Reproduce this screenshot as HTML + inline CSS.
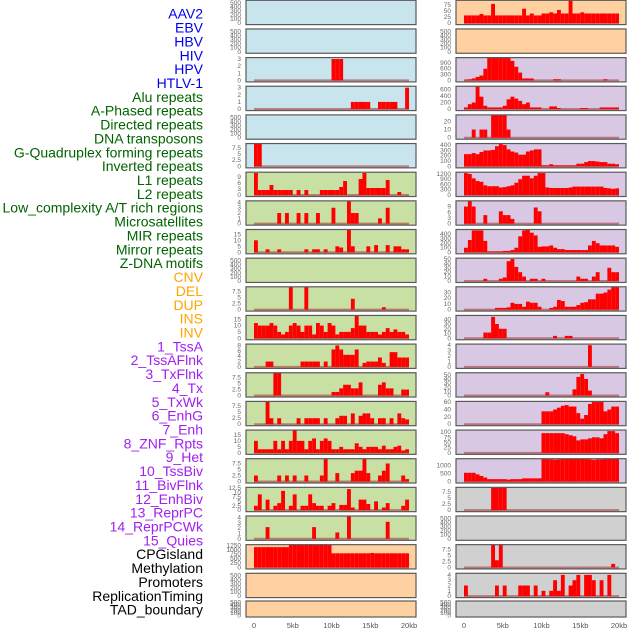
<!DOCTYPE html>
<html><head><meta charset="utf-8"><style>
html,body{margin:0;padding:0;background:#fff;width:630px;height:630px;overflow:hidden}
svg{display:block}
</style></head><body>
<svg id="chart" width="630" height="630" viewBox="0 0 630 630" xmlns="http://www.w3.org/2000/svg"></svg>
<script>
const featureNames = ["AAV2","EBV","HBV","HIV","HPV","HTLV-1","Alu repeats","A-Phased repeats","Directed repeats","DNA transposons","G-Quadruplex forming repeats","Inverted repeats","L1 repeats","L2 repeats","Low_complexity A/T rich regions","Microsatellites","MIR repeats","Mirror repeats","Z-DNA motifs","CNV","DEL","DUP","INS","INV","1_TssA","2_TssAFlnk","3_TxFlnk","4_Tx","5_TxWk","6_EnhG","7_Enh","8_ZNF_Rpts","9_Het","10_TssBiv","11_BivFlnk","12_EnhBiv","13_ReprPC","14_ReprPCWk","15_Quies","CPGisland","Methylation","Promoters","ReplicationTiming","TAD_boundary"];
const labelColors = ["#0000ee","#0000ee","#0000ee","#0000ee","#0000ee","#0000ee","#006400","#006400","#006400","#006400","#006400","#006400","#006400","#006400","#006400","#006400","#006400","#006400","#006400","#ffa500","#ffa500","#ffa500","#ffa500","#ffa500","#a020f0","#a020f0","#a020f0","#a020f0","#a020f0","#a020f0","#a020f0","#a020f0","#a020f0","#a020f0","#a020f0","#a020f0","#a020f0","#a020f0","#a020f0","#000","#000","#000","#000","#000"];
const xTickValues = [0,5,10,15,20];
const xTickLabels = ["0","5kb","10kb","15kb","20kb"];
const emptyTicks = [0,100,200,300,400,500];

// left column panels (bin width 0.5 kb, 40 bins)
const L2 = [0,0,0,0,0,0,0,0,0,0, 0,0,0,0,0,0,0,0,0,0, 3,3,3,0,0,0,0,0,0,0, 0,0,0,0,0,0,0,0,0,0];
const L3 = [0,0,0,0,0,0,0,0,0,0, 0,0,0,0,0,0,0,0,0,0, 0,0,0,0,0,1,1,1,1,1, 0,0,1,1,1,1,1,0,0,3];
const L5 = [10,10,0,0,0,0,0,0,0,0, 0,0,0,0,0,0,0,0,0,0, 0,0,0,0,0,0,0,0,0,0, 0,0,0,0,0,0,0,0,0,0];
const L6 = [11,2.5,2.5,2.5,5,2.5,2.5,2.5,2.5,2.5, 0,2.5,0,2.5,0,0,0,2.5,2.5,2.5, 2.5,2.5,4,7,0,0,0,8,11,3.5, 3.5,3.5,3.5,3.5,7.5,0,0,1.5,0,0];
const L7 = [0,0,0,0,0,0,2,0,2,0, 0,2,0,2,0,0,2,0,0,0, 3,0,0,0,4.2,2,2,0,0,0, 0,0,1,0,3,0,0,0,0,0];
const L8 = [10,0,0,2.5,0,0,2.5,0,0,0, 0,0,0,2.5,0,2.5,2.5,0,2.5,0, 0,5,4,0,20,5,0,0,0,5, 0,6,0,0,6,0,5,5,2.5,2.5];
const L10 = [0,0,0,0,0,0,0,0,0,10, 0,0,0,10,0,0,0,0,0,0, 0,0,0,0,0,4.5,0,0,0,0, 0,0,0,1,0,0,0,0,0,0];
const L11 = [12,10,10,10,12,10,5,3,5,10, 12,10,5,10,10,3,12,10,5,12, 10,3,5,5,5,8,18,10,10,5, 5,5,3,5,8,5,7,5,5,3];
const L12 = [0,0,0,2,2,0,0,0,0,0, 0,0,2,2,2,2,2,0,2,0, 6.5,8,6.5,4.5,4.5,4.5,6.5,0,1.5,2, 2,2,3.5,1.5,0,5.5,5.5,3.5,3.5,3.5];
const L13 = [0,0,0,0,0,10,10,0,0,0, 0,0,0,0,0,0,0,0,0,0, 1.5,1.5,3,4.5,4.5,3,3,5.5,0,0, 0,0,4.5,5.5,3,3,0,0,2.5,2.5];
const L14 = [0,0,0,10,2.5,0,2.5,0,0,0, 0,2.5,0,2.5,2.5,2.5,2.5,0,2.5,0, 0,2.5,3.5,3.5,0,4.5,0,3.5,4.5,4.5, 2.5,0,2.5,2.5,0,2.5,0,4.5,2.5,2];
const L15 = [10,3,3,3,3,10,3,10,3,10, 19,10,10,3,10,12,3,10,12,10, 3,3,5,3,3,3,8,5,3,5, 5,5,3,6,3,3,5,6,2,3];
const L16 = [2.5,0,0,0,0,0,2.5,0,2.5,0, 2.5,0,0,2.5,0,0,0,2.5,10,0, 0,3.5,0,0,0,3.5,4.5,4.5,10,3.5, 0,0,2.5,4.5,7.5,0,0,0,2.5,1];
const L17 = [2.5,9,0,6,0,2.5,4,11,0,2.5, 9,0,2.5,2.5,9,4,2.5,2.5,0,2.5, 4,0,3,3,12,1.5,0,6,6,3.5, 0,5,0,1.5,4,0,0,0,2.5,6];
const L18 = [0,0,0,2.2,0,0,0,0,0,0, 0,0,0,0,0,2.2,0,0,0,0, 0,1.2,0,0,4.2,0,0,0,0,0, 0,0,0,0,3.2,0,0,0,0,0];
const L19 = [1150,1150,1150,1150,1150,1150,1150,1150,1150,1280, 1280,1280,1280,1280,1280,1280,1280,1280,1280,1280, 800,800,800,800,800,800,800,800,800,800, 820,800,800,800,800,800,800,800,800,800];
// right column panels
const R0 = [32,32,32,32,38,32,32,80,32,32, 32,32,32,32,32,60,32,40,32,32, 40,40,45,40,55,40,40,95,40,40, 45,40,40,40,40,40,40,40,40,40];
const R2 = [40,60,100,180,250,600,1150,1200,1200,1200, 1200,1150,1000,700,400,100,100,100,0,0, 0,0,0,60,60,0,0,0,0,0, 0,0,0,0,0,0,60,0,0,0];
const R3 = [50,150,200,700,380,100,50,50,50,50, 100,300,380,320,250,150,200,50,50,50, 0,0,80,80,30,0,0,0,0,0, 30,30,0,0,0,50,50,50,50,50];
const R4 = [0,0,10,0,10,10,0,30,30,30, 30,10,0,0,0,0,0,0,0,0, 0,0,0,0,0,0,0,0,0,0, 0,0,0,0,0,0,0,0,0,0];
const R5 = [230,230,250,230,270,300,300,310,380,420, 400,320,280,260,220,220,280,300,320,320, 20,20,40,20,20,20,20,20,20,50, 50,80,100,100,90,80,80,50,50,40];
const R6 = [1250,1200,950,800,750,550,500,500,500,430, 450,500,550,700,900,1100,1100,950,1100,1250, 1250,430,400,400,400,400,400,430,480,480, 480,480,480,480,480,480,400,380,350,380];
const R7 = [9,12,9,0,0,4.5,0,0,0,6.5, 4.5,4.5,2.5,0,0,0,0,0,8.5,6.5, 0,0,0,0,0,0,0,0,0,0, 0,0,0,0,0,0,0,0,0,0];
const R8 = [100,270,480,480,480,250,20,20,20,20, 30,30,50,100,350,480,500,430,370,120, 130,130,150,100,70,70,50,50,50,50, 50,50,150,250,200,150,150,150,150,120];
const R9 = [0,0,0,0,0,5,0,0,0,5, 8,45,50,32,20,10,0,5,5,0, 5,0,0,0,0,0,0,0,0,10, 5,5,0,10,20,0,0,30,20,20];
const R10 = [0,0,0,0,0,0,0,0,3,3, 3,4,12,10,10,5,14,12,12,5, 0,0,3,5,17,15,5,5,5,8, 12,13,18,18,28,28,30,35,40,40];
const R11 = [0,0,0,0,0,12,12,45,30,20, 20,0,0,0,0,0,0,0,0,0, 0,0,0,5,0,0,5,5,0,0, 0,0,0,0,0,0,0,0,0,0];
const R12 = [0,0,0,0,0,0,0,0,0,0, 0,0,0,0,0,0,0,0,0,0, 0,0,0,0,0,0,0,0,0,0, 0,0,4,0,0,0,0,0,0,0];
const R13 = [0,0,0,0,0,0,0,0,0,0, 0,0,0,0,0,0,0,0,0,0, 0,8,0,0,0,0,0,0,15,45, 52,40,12,0,0,0,0,0,0,0];
const R14 = [0,0,0,0,0,0,0,0,0,0, 0,0,0,0,0,0,0,0,0,0, 35,35,35,40,45,50,52,48,48,30, 15,25,55,62,62,62,35,40,48,48];
const R15 = [0,0,0,0,0,0,0,0,0,0, 0,0,0,0,0,0,0,0,0,0, 95,95,95,95,95,95,90,85,80,60, 65,65,70,75,75,70,90,105,105,95];
const R16 = [550,550,550,450,350,250,150,150,150,150, 150,120,150,150,150,200,200,200,200,200, 1430,1430,1400,1380,1400,1430,1430,1430,1430,1430, 1430,1430,1400,1370,1400,1400,1430,1430,1430,1430];
const R17 = [0,0,0,0,0,0,0,10,10,10, 10,0,0,0,0,0,0,0,0,0, 0,0,0,0,0,0,0,0,0,0, 0,0,0,0,0,0,0,0,0,0];
const R19 = [0,0,0,0,0,0,0,10,3,10, 0,0,0,0,0,0,0,0,0,0, 0,0,0,0,0,0,0,0,0,0, 0,0,0,0,0,0,0,0,1.5,0];
const R20 = [2,0,0,0,0,0,0,0,2,0, 2,0,0,0,2,2,2,0,2,0, 1,0,1,3,1,4,0,2,3,4, 0,4,4,3,0,3,0,4,0,0];

const leftSeries = [null,null,L2,L3,null,L5,L6,L7,L8,null,L10,L11,L12,L13,L14,L15,L16,L17,L18,L19,null,null];
const rightSeries = [R0,null,R2,R3,R4,R5,R6,R7,R8,R9,R10,R11,R12,R13,R14,R15,R16,R17,null,R19,R20,null];
const leftYMax = [0,0,3.2,3.2,0,9.2,11.4,4.3,19,0,9.5,18,8.5,9.5,9.5,19,9.5,13,4.3,1290,0,0];
const rightYMax = [95,0,1170,700,28,430,1300,12,500,52,40,48,4.2,55,62,110,1440,9.5,0,9.5,4.3,0];
const leftTicks = [null,null,[0,1,2,3],[0,1,2,3],null,[0,2.5,5,7.5],[0,3,6,9],[0,1,2,3,4],[0,5,10,15],null,[0,2.5,5,7.5],[0,5,10,15],[0,2,4,6,8],[0,2.5,5,7.5],[0,2.5,5,7.5],[0,5,10,15],[0,2.5,5,7.5],[0,2.5,5,7.5,10,12.5],[0,1,2,3,4],[0,250,500,750,1000,1250],null,null];
const rightTicks = [[0,25,50,75],null,[0,300,600,900],[0,200,400,600],[0,10,20],[0,100,200,300,400],[0,300,600,900,1200],[0,3,6,9],[0,100,200,300,400],[0,10,20,30,40,50],[0,10,20,30],[0,10,20,30,40],[0,1,2,3,4],[0,10,20,30,40,50],[0,20,40,60],[0,25,50,75,100],[0,500,1000],[0,2.5,5,7.5],null,[0,2.5,5,7.5],[0,1,2,3,4],null];
const leftBg = ["#c8e4ec","#c8e4ec","#c8e4ec","#c8e4ec","#c8e4ec","#c8e4ec","#c8e0a4","#c8e0a4","#c8e0a4","#c8e0a4","#c8e0a4","#c8e0a4","#c8e0a4","#c8e0a4","#c8e0a4","#c8e0a4","#c8e0a4","#c8e0a4","#c8e0a4","#ffd0a0","#ffd0a0","#ffd0a0"];
const rightBg = ["#ffd0a0","#ffd0a0","#d8c8e4","#d8c8e4","#d8c8e4","#d8c8e4","#d8c8e4","#d8c8e4","#d8c8e4","#d8c8e4","#d8c8e4","#d8c8e4","#d8c8e4","#d8c8e4","#d8c8e4","#d8c8e4","#d8c8e4","#d0d0d0","#d0d0d0","#d0d0d0","#d0d0d0","#d0d0d0"];

const NS = "http://www.w3.org/2000/svg";
const svg = document.getElementById("chart");
const BIN = 0.5;
function mk(tag, attrs, parent) {
  const e = document.createElementNS(NS, tag);
  for (const k in attrs) e.setAttribute(k, attrs[k]);
  (parent || svg).appendChild(e);
  return e;
}
function fmt(v){ return String(v); }

// labels
featureNames.forEach((name, i) => {
  const t = mk("text", {x: 203, y: 15 + i * 13.86, "text-anchor": "end", "dominant-baseline": "middle", "font-family": "Liberation Sans, sans-serif", "font-size": 14, fill: labelColors[i]});
  
  
  t.textContent = name;
});

function drawPanel(col, row, data, ymax, ticks, bg) {
  const px0 = col === 0 ? 246 : 456;
  const pw = 170;
  const xs = kb => px0 + 8 + kb * 7.75;
  const top = row === 21 ? 601 : 28.65 * row + 0.3;
  const h = row === 21 ? 16 : 24.3;
  const bottom = top + h;
  const y0 = bottom - 1.5;
  const g = mk("g", {});
  
  
  const bgR = mk("rect", {x: px0, y: top, width: pw, height: h, fill: bg}, g);
  
  
  const tks = ticks || emptyTicks;
  const tmax = ticks ? ymax : 560;
  const ys = v => y0 - (v / tmax) * (y0 - top);
  if (data) {
    const base = mk("line", {x1: xs(0), x2: xs(20), y1: y0, y2: y0, stroke: "rgba(170,60,60,0.6)", "stroke-width": 2}, g);
    
    
    data.forEach((v, i) => {
      if (!v) return;
      const yt = Math.max(top, ys(v));
      const r = mk("rect", {x: xs(i * BIN), y: yt, width: xs((i + 1) * BIN) - xs(i * BIN), height: y0 - yt, fill: "#ff0000"}, g);
      
      
    });
  }
  const fr = mk("rect", {x: px0, y: top, width: pw, height: h, fill: "none", stroke: "#5a5a5a", "stroke-width": 1.2}, g);
  
  
  const tx = px0 - 5;
  tks.forEach(v => {
    const t = mk("text", {x: tx, y: ys(v) + 2, "text-anchor": "end", "font-family": "Liberation Sans, sans-serif", "font-size": 6.5, fill: "#666"}, g);
    
    
    t.textContent = fmt(v);
  });
}

for (let r = 0; r < 22; r++) {
  drawPanel(0, r, leftSeries[r], leftYMax[r], leftTicks[r], leftBg[r]);
  drawPanel(1, r, rightSeries[r], rightYMax[r], rightTicks[r], rightBg[r]);
}

[246, 456].forEach(px0 => {
  xTickValues.forEach((v, i) => {
    const t = mk("text", {x: px0 + 8 + v * 7.75, y: 628, "text-anchor": "middle", "font-family": "Liberation Sans, sans-serif", "font-size": 7.5, fill: "#555"});
    
    
    t.textContent = xTickLabels[i];
  });
});
</script>
</body></html>
